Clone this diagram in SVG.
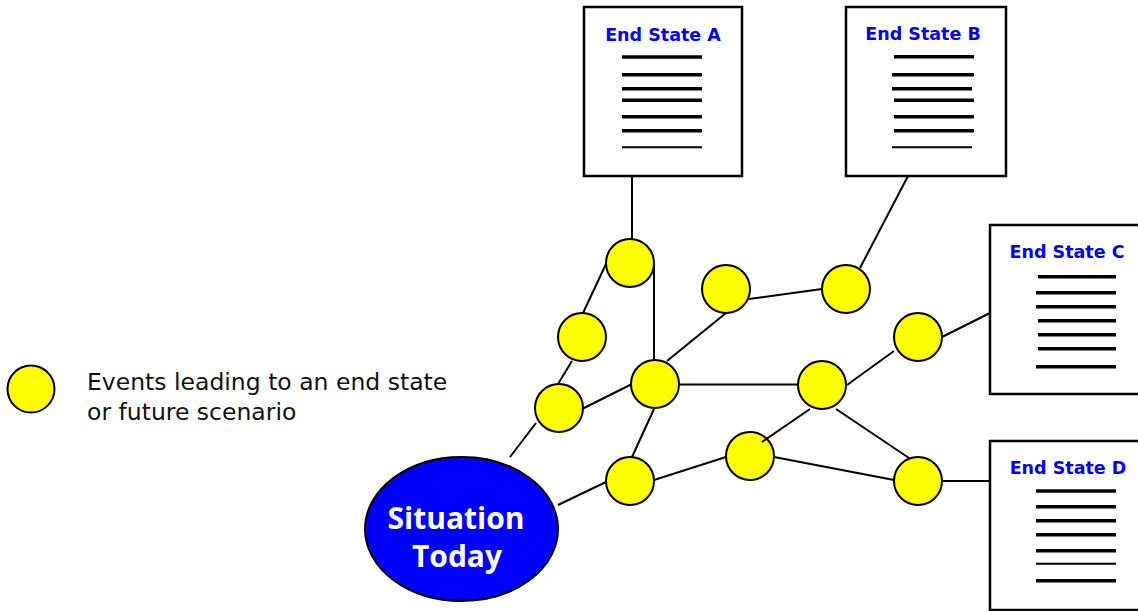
<svg xmlns="http://www.w3.org/2000/svg" width="1138" height="611" viewBox="0 0 1138 611">
<style>
.box{fill:#fff;stroke:#000;stroke-width:2.5}
.title{font-family:"DejaVu Sans",Verdana,sans-serif;font-weight:bold;font-size:17.5px;fill:#0000ff;text-anchor:middle}
.thick{stroke:#000;stroke-width:3.5}
.thin{stroke:#000;stroke-width:2}
.ev{fill:#ffff00;stroke:#000;stroke-width:2}
.conn line{stroke:#000;stroke-width:2}
.legend{font-family:"DejaVu Sans",Verdana,sans-serif;font-size:23.5px;fill:#111}
.sit{font-family:"Open Sans",sans-serif;font-weight:bold;font-size:30px;fill:#fff;text-anchor:middle}
</style>
<rect width="1138" height="611" fill="#fff"/>

<g id="endStateA">
<rect class="box" x="584" y="7" width="158" height="169"/>
<text class="title" x="663" y="41">End State A</text>
<line class="thick" x1="622" y1="57" x2="702" y2="57"/>
<line class="thick" x1="622" y1="74.7" x2="702" y2="74.7"/>
<line class="thick" x1="622" y1="88.7" x2="702" y2="88.7"/>
<line class="thick" x1="622" y1="100.3" x2="702" y2="100.3"/>
<line class="thick" x1="622" y1="116.7" x2="702" y2="116.7"/>
<line class="thick" x1="622" y1="130.7" x2="702" y2="130.7"/>
<line class="thin" x1="622" y1="147.3" x2="702" y2="147.3"/>
</g>

<g id="endStateB">
<rect class="box" x="846" y="7" width="160" height="169"/>
<text class="title" x="923" y="40">End State B</text>
<line class="thick" x1="894" y1="56.7" x2="974" y2="56.7"/>
<line class="thick" x1="892" y1="74.7" x2="974" y2="74.7"/>
<line class="thick" x1="892" y1="88.7" x2="972" y2="88.7"/>
<line class="thick" x1="894" y1="100.3" x2="974" y2="100.3"/>
<line class="thick" x1="894" y1="116.7" x2="974" y2="116.7"/>
<line class="thick" x1="894" y1="130.7" x2="974" y2="130.7"/>
<line class="thin" x1="892" y1="147.3" x2="972" y2="147.3"/>
</g>

<g id="endStateC">
<rect class="box" x="990" y="225" width="160" height="169"/>
<text class="title" x="1067" y="258">End State C</text>
<line class="thick" x1="1038" y1="276.7" x2="1116" y2="276.7"/>
<line class="thick" x1="1036" y1="292.7" x2="1116" y2="292.7"/>
<line class="thick" x1="1036" y1="306.7" x2="1116" y2="306.7"/>
<line class="thick" x1="1038" y1="320.7" x2="1116" y2="320.7"/>
<line class="thick" x1="1038" y1="334.7" x2="1116" y2="334.7"/>
<line class="thick" x1="1038" y1="348.7" x2="1116" y2="348.7"/>
<line class="thick" x1="1036" y1="366.7" x2="1116" y2="366.7"/>
</g>

<g id="endStateD">
<rect class="box" x="990" y="441" width="160" height="169"/>
<text class="title" x="1068" y="474">End State D</text>
<line class="thick" x1="1036" y1="491" x2="1116" y2="491"/>
<line class="thick" x1="1036" y1="506.7" x2="1116" y2="506.7"/>
<line class="thick" x1="1036" y1="520.7" x2="1116" y2="520.7"/>
<line class="thick" x1="1036" y1="534.7" x2="1116" y2="534.7"/>
<line class="thick" x1="1036" y1="550.7" x2="1116" y2="550.7"/>
<line class="thin" x1="1036" y1="563.7" x2="1116" y2="563.7"/>
<line class="thick" x1="1036" y1="580.7" x2="1116" y2="580.7"/>
</g>

<g id="situationToday">
<ellipse cx="461.5" cy="529" rx="96.5" ry="72" fill="#0000ff" stroke="#000" stroke-width="2"/>
<text class="sit" x="456" y="529">Situation</text>
<text class="sit" x="457" y="567">Today</text>
</g>

<g id="legend">
<circle class="ev" cx="31" cy="389" r="23.5"/>
<text class="legend" x="87" y="390">Events leading to an end state</text>
<text class="legend" x="87" y="420">or future scenario</text>
</g>

<g id="e1"><circle class="ev" cx="630" cy="263" r="24"/></g>
<g id="e2"><circle class="ev" cx="582" cy="337" r="24"/></g>
<g id="e3"><circle class="ev" cx="559" cy="408" r="24"/></g>
<g id="e4"><circle class="ev" cx="655" cy="384" r="24"/></g>
<g id="e5"><circle class="ev" cx="630" cy="481" r="24"/></g>
<g id="e6"><circle class="ev" cx="726" cy="289" r="24"/></g>
<g id="e7"><circle class="ev" cx="846" cy="289" r="24"/></g>
<g id="e8"><circle class="ev" cx="918" cy="337" r="24"/></g>
<g id="e9"><circle class="ev" cx="822" cy="385" r="24"/></g>
<g id="e10"><circle class="ev" cx="750" cy="456" r="24"/></g>
<g id="e11"><circle class="ev" cx="918" cy="481" r="24"/></g>

<g id="connectors" class="conn">
<line x1="632" y1="176" x2="632" y2="239"/>
<line x1="606" y1="264" x2="583" y2="313"/>
<line x1="654" y1="264" x2="654" y2="360"/>
<line x1="572" y1="361" x2="558" y2="384"/>
<line x1="536" y1="423" x2="510" y2="457"/>
<line x1="582" y1="409" x2="631" y2="384.5"/>
<line x1="667" y1="361" x2="726" y2="313"/>
<line x1="679" y1="384.5" x2="798" y2="384.5"/>
<line x1="654" y1="409" x2="632" y2="457"/>
<line x1="558" y1="505" x2="606" y2="482"/>
<line x1="654" y1="480" x2="726" y2="457"/>
<line x1="749" y1="299" x2="822" y2="289"/>
<line x1="860" y1="268" x2="908" y2="176"/>
<line x1="847" y1="385" x2="894" y2="351"/>
<line x1="942" y1="337" x2="990" y2="313"/>
<line x1="810" y1="409" x2="762" y2="442"/>
<line x1="836" y1="409" x2="909" y2="458"/>
<line x1="774" y1="457" x2="894" y2="480"/>
<line x1="942" y1="481" x2="990" y2="481"/>
</g>
</svg>
